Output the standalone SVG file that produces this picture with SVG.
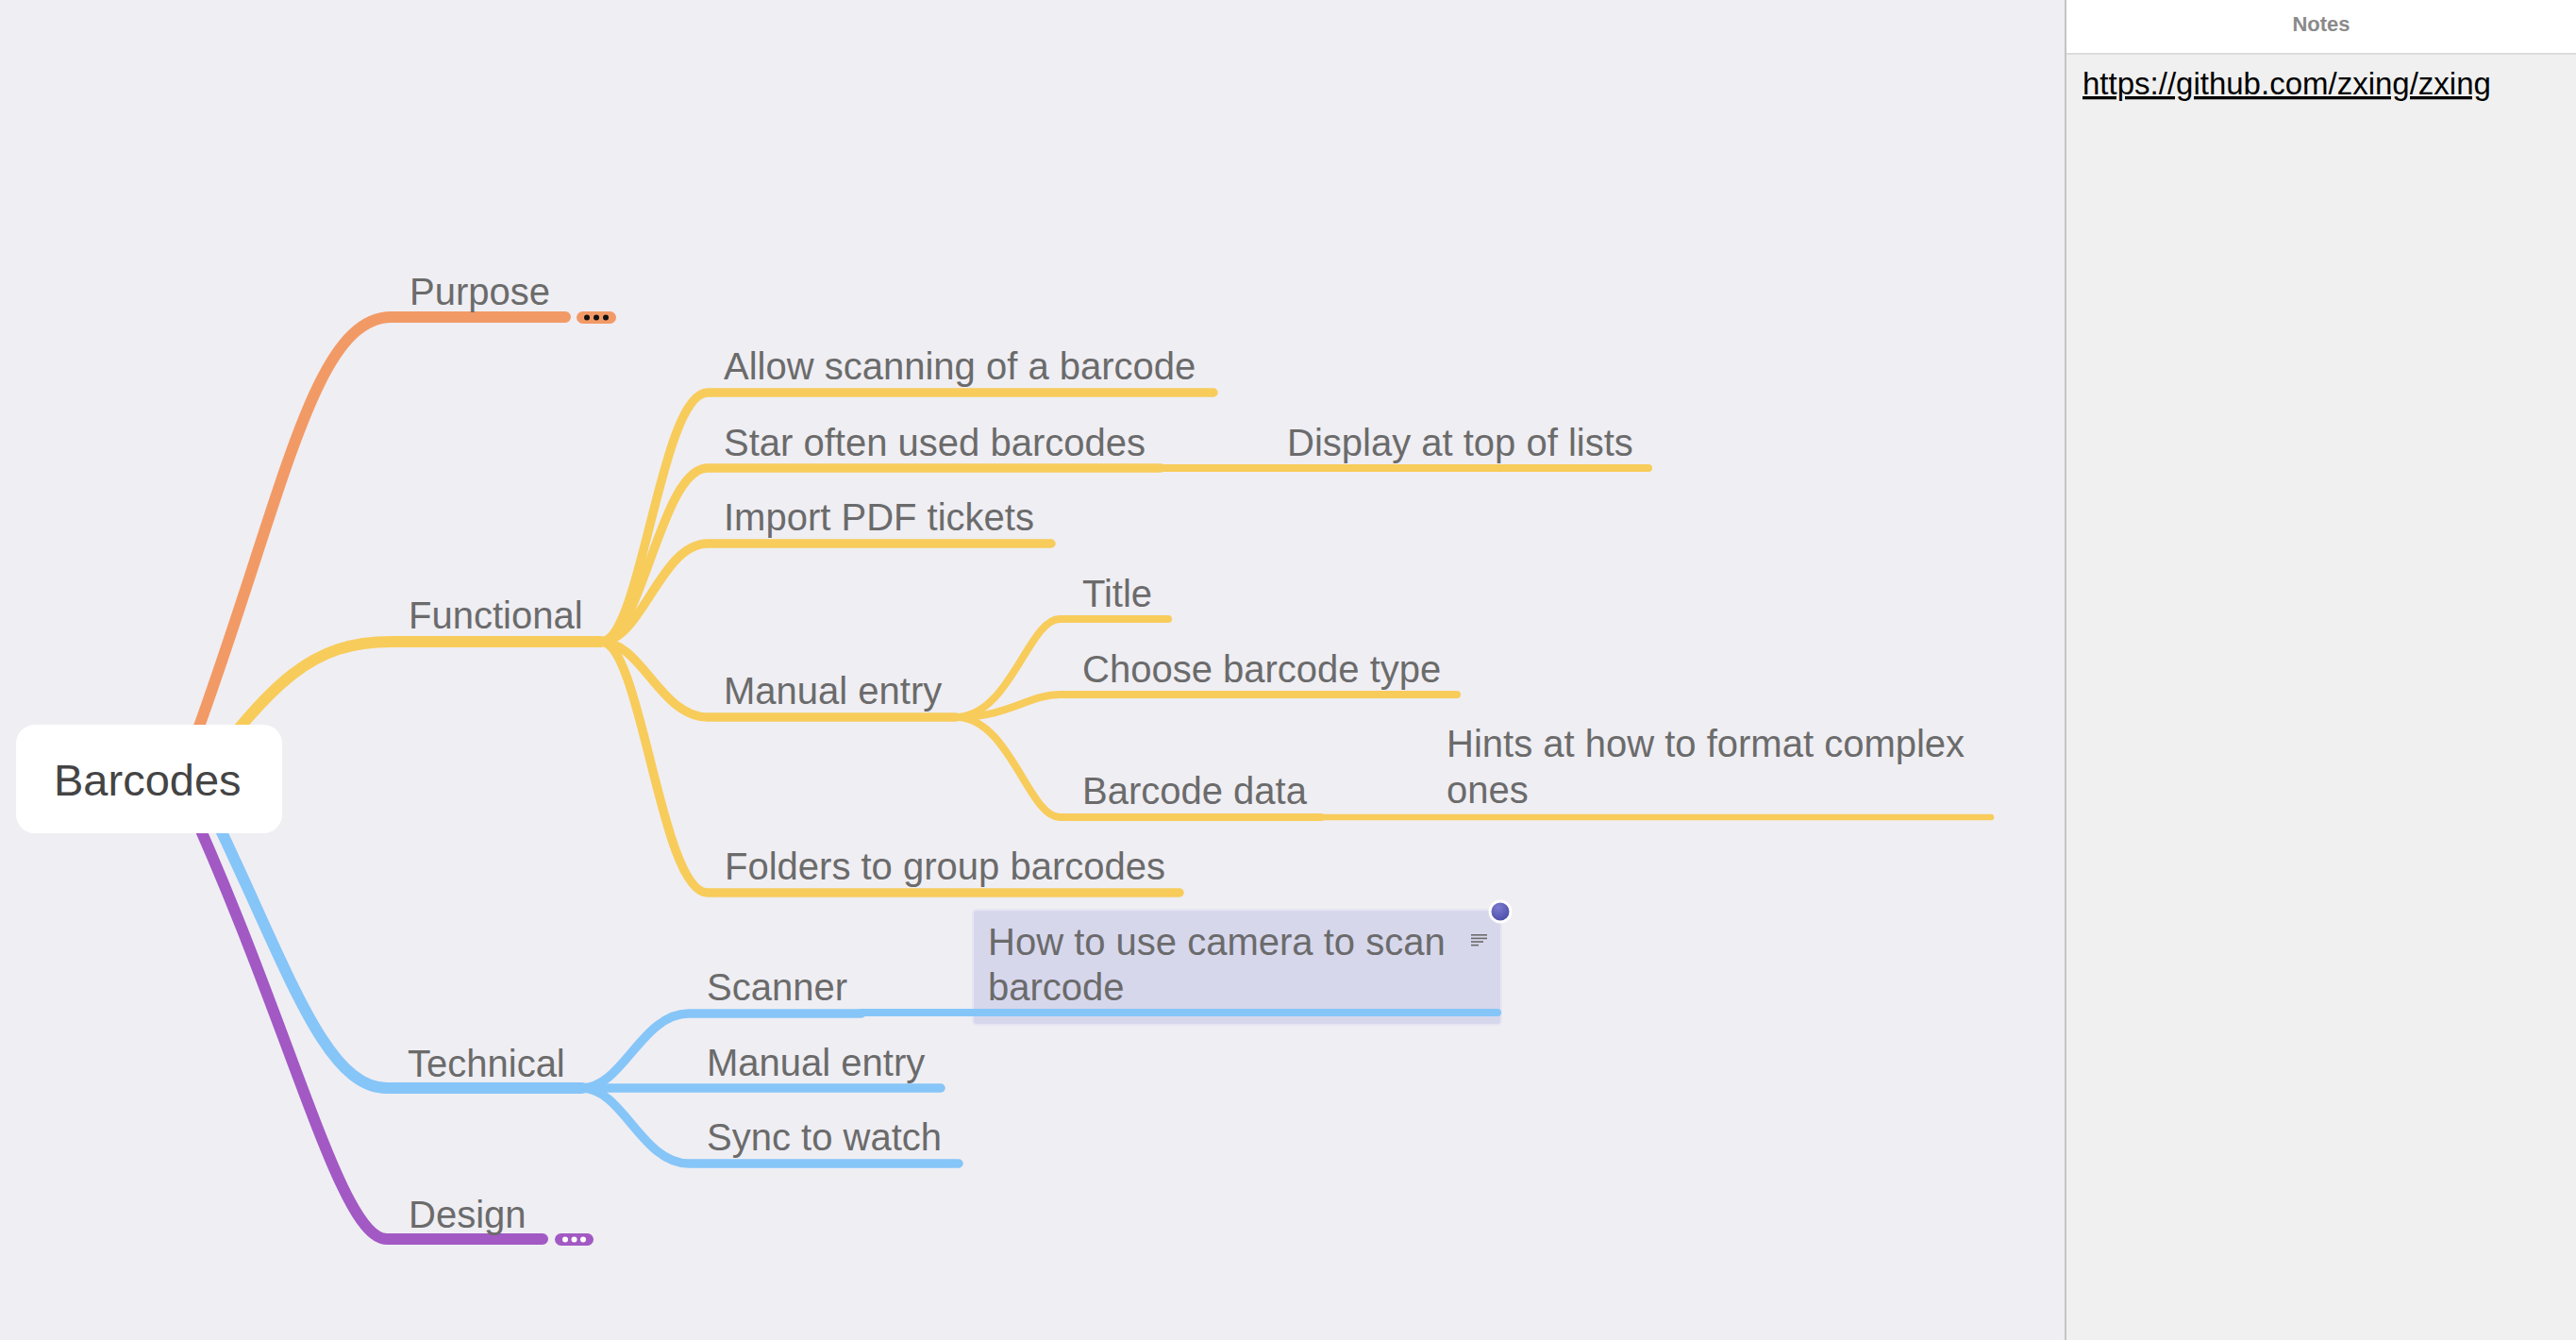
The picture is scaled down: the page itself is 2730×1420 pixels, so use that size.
<svg xmlns="http://www.w3.org/2000/svg" width="2730" height="1420" viewBox="0 0 2730 1420">
<style>
.c{fill:none;stroke-linecap:round;stroke-linejoin:round}
.l1{stroke-width:12}
.l2{stroke-width:9.5}
.l3{stroke-width:8}
.l4{stroke-width:6.5}
.o{stroke:#f29a66}
.y{stroke:#f8cc5b}
.b{stroke:#86c5f8}
.p{stroke:#a259c4}
.t{font-family:"Liberation Sans",Arial,Helvetica,sans-serif;font-size:40px;fill:#6b6b6b}
.root{font-family:"Liberation Sans",Arial,Helvetica,sans-serif;font-size:47px;fill:#444444}
</style>
<defs>
<radialGradient id="dotg" cx="0.4" cy="0.3" r="0.8">
<stop offset="0" stop-color="#7b7bd0"/>
<stop offset="1" stop-color="#4347a0"/>
</radialGradient>
</defs>
<rect x="0" y="0" width="2730" height="1420" fill="#efeef3"/>

<g id="connectors">
<path class="c l1 o" d="M 200 800 C 300 530, 330 336, 415 336 L 599 336"/>
<path class="c l1 y" d="M 200 840 C 290 720, 330 680, 415 680 L 637 680"/>
<path class="c l1 b" d="M 210 830 C 300 1010, 340 1153, 410 1153 L 617 1153"/>
<path class="c l1 p" d="M 195 840 C 310 1090, 360 1313, 410 1313 L 575 1313"/>

<path class="c l2 y" d="M 637 680 C 680 680, 700 416, 750 416 L 1286 416"/>
<path class="c l2 y" d="M 637 680 C 680 680, 700 496, 750 496 L 1230 496"/>
<path class="c l2 y" d="M 637 680 C 680 680, 700 576, 750 576 L 1114 576"/>
<path class="c l2 y" d="M 637 680 C 680 680, 700 760, 750 760 L 1013 760"/>
<path class="c l2 y" d="M 637 680 C 680 680, 700 946, 750 946 L 1250 946"/>

<path class="c l3 y" d="M 1230 496 L 1747 496"/>
<path class="c l3 y" d="M 1013 760 C 1070 760, 1090 656, 1123 656 L 1238 656"/>
<path class="c l3 y" d="M 1013 760 C 1070 760, 1090 736, 1123 736 L 1544 736"/>
<path class="c l3 y" d="M 1013 760 C 1070 760, 1090 866, 1123 866 L 1400 866"/>
<path class="c l4 y" d="M 1400 866 L 2110 866"/>

<path class="c l2 b" d="M 617 1153 C 660 1153, 680 1074, 730 1074 L 913 1074"/>
<path class="c l2 b" d="M 617 1153 L 997 1153"/>
<path class="c l2 b" d="M 617 1153 C 660 1153, 680 1233, 730 1233 L 1016 1233"/>
</g>

<g id="node-root">
<rect x="17" y="768" width="282" height="115" rx="20" fill="#ffffff"/>
<text class="root" x="57" y="843">Barcodes</text>
</g>

<g id="node-purpose">
<text class="t" x="434" y="323">Purpose</text>
<rect x="611" y="330" width="42" height="13" rx="6.5" fill="#f29a66"/>
<circle cx="622" cy="336.5" r="3" fill="#111"/>
<circle cx="632" cy="336.5" r="3" fill="#111"/>
<circle cx="642" cy="336.5" r="3" fill="#111"/>
</g>

<g id="node-functional"><text class="t" x="433" y="666">Functional</text></g>
<g id="node-allow"><text class="t" x="767" y="402">Allow scanning of a barcode</text></g>
<g id="node-star"><text class="t" x="767" y="483">Star often used barcodes</text></g>
<g id="node-display"><text class="t" x="1364" y="483">Display at top of lists</text></g>
<g id="node-import"><text class="t" x="767" y="562">Import PDF tickets</text></g>
<g id="node-manual"><text class="t" x="767" y="746">Manual entry</text></g>
<g id="node-title"><text class="t" x="1147" y="643">Title</text></g>
<g id="node-choose"><text class="t" x="1147" y="723">Choose barcode type</text></g>
<g id="node-barcodedata"><text class="t" x="1147" y="852">Barcode data</text></g>
<g id="node-hints"><text class="t" x="1533" y="802">Hints at how to format complex</text><text class="t" x="1533" y="851">ones</text></g>
<g id="node-folders"><text class="t" x="768" y="932">Folders to group barcodes</text></g>

<g id="node-technical"><text class="t" x="432" y="1141">Technical</text></g>
<g id="node-scanner"><text class="t" x="749" y="1060">Scanner</text></g>
<g id="node-howto">
<rect x="1031" y="964" width="560" height="122" rx="4" fill="#d7d7ec" stroke="#e6e6f3" stroke-width="2"/>
<path class="c l3 b" d="M 913 1073 L 1587 1073"/>
<text class="t" x="1047" y="1012">How to use camera to scan</text>
<text class="t" x="1047" y="1060">barcode</text>
<g fill="#6b6b6b">
<rect x="1559" y="990" width="17" height="1.6"/>
<rect x="1559" y="993.6" width="17" height="1.6"/>
<rect x="1559" y="997.2" width="13" height="1.6"/>
<rect x="1559" y="1000.8" width="8" height="1.6"/>
</g>
<circle cx="1590" cy="966" r="11" fill="url(#dotg)" stroke="#ffffff" stroke-width="3"/>
</g>
<g id="node-manual-tech"><text class="t" x="749" y="1140">Manual entry</text></g>
<g id="node-sync"><text class="t" x="749" y="1219">Sync to watch</text></g>

<g id="node-design">
<text class="t" x="433" y="1301">Design</text>
<rect x="588" y="1307" width="41" height="13" rx="6.5" fill="#a259c4"/>
<circle cx="599" cy="1313.5" r="3" fill="#ffffff"/>
<circle cx="608.5" cy="1313.5" r="3" fill="#ffffff"/>
<circle cx="618" cy="1313.5" r="3" fill="#ffffff"/>
</g>

<g id="notes-panel">
<rect x="2189" y="0" width="541" height="1420" fill="#f0f0f0"/>
<rect x="2189" y="0" width="541" height="57" fill="#ffffff"/>
<line x1="2190" y1="57" x2="2730" y2="57" stroke="#dcdcdc" stroke-width="2"/>
<line x1="2189" y1="0" x2="2189" y2="1420" stroke="#c4c4c4" stroke-width="2"/>
<text x="2460" y="33" text-anchor="middle" font-family="Liberation Sans, Arial, Helvetica, sans-serif" font-size="22" font-weight="bold" fill="#8a8a8a">Notes</text>
<text x="2207" y="100" font-family="Liberation Sans, Arial, Helvetica, sans-serif" font-size="33" fill="#000000" text-decoration="underline">https://github.com/zxing/zxing</text>
</g>
</svg>
